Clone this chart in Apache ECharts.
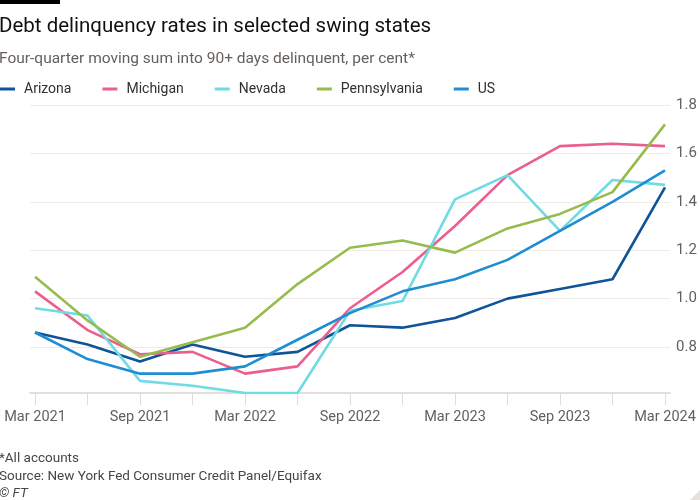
<!DOCTYPE html>
<html><head><meta charset="utf-8">
<script src="https://cdn.jsdelivr.net/npm/echarts@6/dist/echarts.min.js"></script>
<style>html,body{margin:0;padding:0;background:#fff}#c{width:700px;height:500px}</style>
</head><body><div id="c"></div>
<script>
const categories = ['Mar 2021','Jun 2021','Sep 2021','Dec 2021','Mar 2022','Jun 2022','Sep 2022','Dec 2022','Mar 2023','Jun 2023','Sep 2023','Dec 2023','Mar 2024'];
const arizona      = [0.86,0.81,0.74,0.81,0.76,0.78,0.89,0.88,0.92,1.00,1.04,1.08,1.46];
const michigan     = [1.03,0.87,0.77,0.78,0.69,0.72,0.96,1.11,1.30,1.51,1.63,1.64,1.63];
const nevada       = [0.96,0.93,0.66,0.64,0.61,0.61,0.95,0.99,1.41,1.51,1.28,1.49,1.47];
const pennsylvania = [1.09,0.91,0.76,0.82,0.88,1.06,1.21,1.24,1.19,1.29,1.35,1.44,1.72];
const us           = [0.86,0.75,0.69,0.69,0.72,0.83,0.94,1.03,1.08,1.16,1.28,1.40,1.53];
const yTicks = [0.8,1.0,1.2,1.4,1.6,1.8];
const yMin = 0.61, yMax = 1.8;

const FONT = 'Roboto';
const chart = echarts.init(document.getElementById('c'), null, {renderer:'canvas'});
const names = ['Arizona','Michigan','Nevada','Pennsylvania','US'];
const colors = ['#0f5499','#eb5e8d','#70dbe4','#96bc4e','#1f8dd1'];
const datas = [arizona, michigan, nevada, pennsylvania, us];

chart.setOption({
  backgroundColor:'#ffffff',
  animation:false,
  textStyle:{fontFamily:FONT},
  title:[
    {text:'Debt delinquency rates in selected swing states', left:-1, top:16, padding:[0,0,0,0],
     textStyle:{fontFamily:FONT, fontSize:20.5, fontWeight:'normal', color:'#111'}},
    {text:'Four-quarter moving sum into 90+ days delinquent, per cent*', left:-1, top:51, padding:[0,0,0,0],
     textStyle:{fontFamily:FONT, fontSize:15.5, fontWeight:'normal', color:'#66605c'}},
    {text:'*All accounts', left:-1, top:452, padding:[0,0,0,0],
     textStyle:{fontFamily:FONT, fontSize:13.5, fontWeight:'normal', color:'#4a4541'}},
    {text:'Source: New York Fed Consumer Credit Panel/Equifax', left:-1, top:470, padding:[0,0,0,0],
     textStyle:{fontFamily:FONT, fontSize:13.5, fontWeight:'normal', color:'#4a4541'}},
    {text:'© FT', left:-1, top:487, padding:[0,0,0,0],
     textStyle:{fontFamily:FONT, fontSize:13.5, fontWeight:'normal', fontStyle:'italic', color:'#4a4541'}}
  ],
  graphic:[
    {type:'rect', left:0, top:0, shape:{width:60, height:4}, style:{fill:'#000'}},
    {type:'polygon', shape:{points:[[700,490],[700,500],[690,500]]}, style:{fill:'#e6e1dc'}}
  ],
  legend:{
    data:names, left:0, top:82, padding:0, icon:'rect', itemWidth:15, itemHeight:3, itemGap:31,
    textStyle:{fontFamily:FONT, fontSize:14, color:'#33302e', padding:[0,0,0,4]}
  },
  grid:[
    {left:35, right:35, top:105, bottom:107},
    {left:30, right:30, top:105, bottom:107}
  ],
  xAxis:[
    {type:'category', gridIndex:0, data:categories, boundaryGap:false,
     axisLine:{show:false},
     axisTick:{show:true, interval:0, length:12, lineStyle:{color:'#e2dcd6', width:1}},
     axisLabel:{interval:1, margin:17, fontFamily:FONT, fontSize:14.5, color:'#66605c'},
     splitLine:{show:false}},
    {type:'value', gridIndex:1, min:0, max:1,
     axisLine:{show:true, onZero:false, lineStyle:{color:'#e4dfd9', width:2}},
     axisTick:{show:false}, axisLabel:{show:false}, splitLine:{show:false}}
  ],
  yAxis:[
    {type:'value', gridIndex:0, min:yMin, max:yMax, show:false, splitLine:{show:false}},
    {type:'value', gridIndex:1, min:yMin, max:yMax, position:'right',
     axisLine:{show:false},
     axisTick:{show:false, customValues:yTicks},
     axisLabel:{customValues:yTicks, margin:6, fontFamily:FONT, fontSize:15, color:'#66605c',
       formatter:v=>v.toFixed(1)},
     splitLine:{show:true, lineStyle:{color:'#f0ebe6', width:1}}}
  ],
  series: names.map((n,i)=>({
    name:n, type:'line', xAxisIndex:0, yAxisIndex:0, data:datas[i],
    symbol:'none', color:colors[i], lineStyle:{width:2.6, color:colors[i]}
  }))
});
</script></body></html>
